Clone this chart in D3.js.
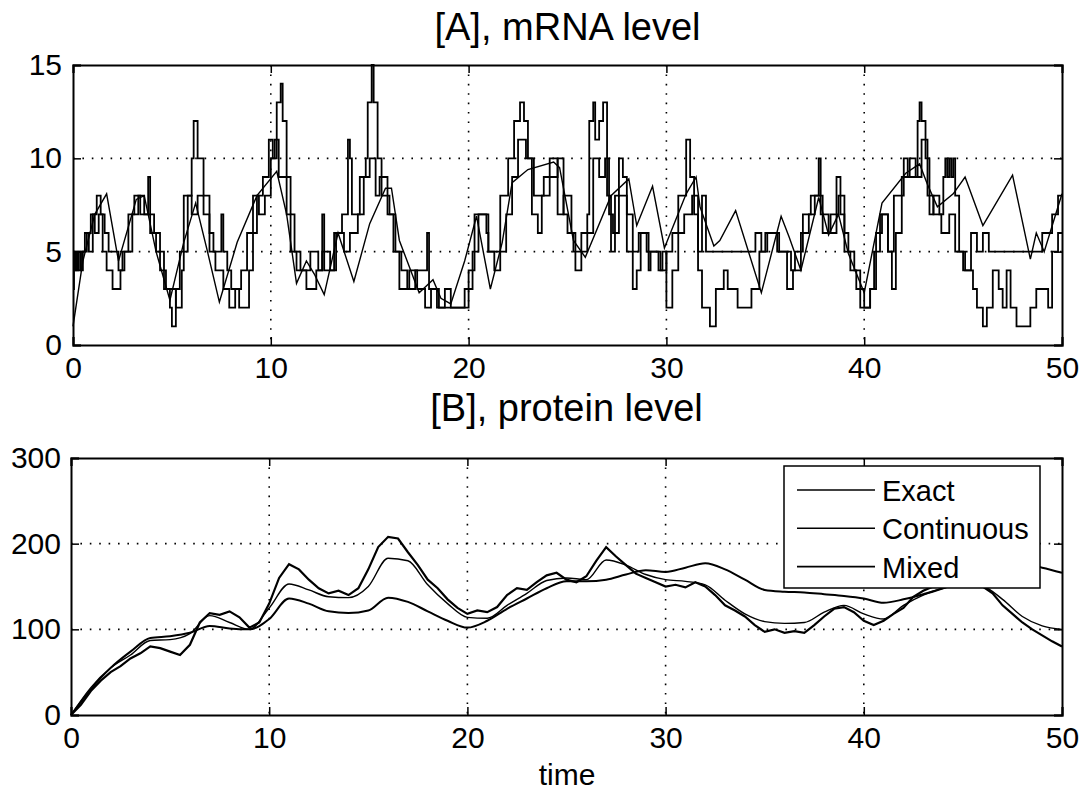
<!DOCTYPE html>
<html><head><meta charset="utf-8">
<script src="https://cdn.jsdelivr.net/npm/d3@7"></script>
<style>body{margin:0;background:#fff}svg{display:block}text{font-family:Arial,"Liberation Sans",sans-serif;fill:#000}</style>
</head><body><svg id="c" width="1084" height="791"></svg>
<script>
// ---------- DATA ----------
const titleA = "[A], mRNA level";
const titleB = "[B], protein level";
const xLabel = "time";
const xTicks = [0,10,20,30,40,50];
const yTicksA = [0,5,10,15];
const yTicksB = [0,100,200,300];
const legendNames = ["Exact","Continuous","Mixed"];

// mRNA, exact (step) [time, count]
const mrnaExact = [[0,5],[0.1,4],[0.2,5],[0.3,4],[0.4,5],[0.6,6],[0.8,5],[1.0,7],[1.2,8],[1.4,7],[1.6,6],[1.8,5],[2.3,4],[2.5,5],[2.8,7],[3.1,8],[3.4,7],[3.8,9],[3.9,7],[4.1,6],[4.4,5],[4.6,3],[4.9,2],[5.0,1],[5.2,3],[5.4,5],[5.6,8],[6.0,10],[6.1,12],[6.3,10],[6.6,8],[6.9,6],[7.1,5],[7.5,7],[7.6,5],[7.8,4],[8.0,3],[8.4,2],[8.9,4],[9.1,6],[9.3,8],[9.6,9],[9.9,11],[10.1,10],[10.3,13],[10.5,14],[10.6,12],[10.8,9],[11.0,7],[11.2,5],[11.5,4],[12.0,5],[12.4,4],[12.6,7],[12.7,4],[13.2,6],[13.6,7],[13.9,11],[14.0,10],[14.1,7],[14.5,9],[14.8,10],[14.9,13],[15.1,15],[15.2,13],[15.4,10],[15.6,8],[16.0,7],[16.3,5],[16.6,4],[16.9,3],[17.3,4],[17.9,6],[18.0,3],[18.5,2],[20.0,4],[20.3,7],[20.9,6],[21.0,5],[21.6,8],[22.0,10],[22.3,12],[22.6,13],[22.8,12],[23.0,10],[23.2,7],[23.5,6],[23.7,8],[24.1,10],[24.5,7],[24.8,8],[25.2,6],[25.4,4],[25.7,6],[26.0,7],[26.1,12],[26.3,13],[26.4,11],[26.6,12],[26.8,13],[27.0,8],[27.2,5],[27.4,8],[27.6,10],[27.8,9],[28.0,5],[28.3,3],[28.5,4],[28.7,6],[29.1,4],[29.2,5],[29.7,4],[30.0,5],[30.3,6],[30.6,8],[31.0,11],[31.2,9],[31.4,7],[31.6,5],[31.8,8],[32.0,5],[34.0,5],[34.5,6],[34.8,5],[35.1,6],[35.7,5],[36.3,4],[36.5,5],[36.9,7],[37.3,8],[37.7,10],[37.8,7],[38.2,6],[38.6,9],[38.8,7],[39.0,5],[39.3,4],[39.6,3],[39.8,2],[40.3,3],[40.5,5],[40.8,7],[41.2,5],[41.5,8],[42.0,10],[42.2,9],[42.7,12],[42.8,13],[42.9,12],[43.1,10],[43.3,7],[43.5,8],[43.8,7],[44.0,9],[44.1,10],[44.2,9],[44.3,10],[44.4,9],[44.5,10],[44.6,8],[44.8,5],[45.1,4],[45.4,6],[45.7,5],[46.0,6],[46.3,5],[48.5,5],[49.0,6],[49.5,7],[49.8,8],[50,8]];

// mRNA, mixed (step)
const mrnaMixed = [[0,3],[0.05,5],[0.15,4],[0.25,5],[0.4,4],[0.5,5],[0.7,6],[0.9,7],[1.1,6],[1.3,7],[1.5,5],[1.7,4],[2.0,3],[2.4,4],[2.6,5],[3.0,7],[3.3,8],[3.6,7],[3.9,6],[4.2,5],[4.4,4],[4.7,3],[5.2,2],[5.5,4],[5.6,5],[5.8,8],[6.0,7],[6.3,8],[6.6,7],[6.9,5],[7.2,4],[7.6,3],[7.9,2],[8.2,3],[8.5,4],[8.8,6],[9.1,8],[9.4,7],[9.7,8],[10.0,10],[10.2,11],[10.4,9],[10.8,7],[11.0,5],[11.3,4],[11.8,3],[12.3,4],[12.6,5],[13.0,4],[13.3,6],[13.7,5],[14.0,6],[14.4,7],[14.7,9],[15.0,10],[15.3,8],[15.5,9],[15.9,7],[16.2,5],[16.5,3],[17.0,4],[17.4,3],[17.8,2],[18.1,3],[18.4,2],[18.8,3],[19.1,2],[19.8,3],[20.2,5],[20.5,7],[21.0,5],[21.3,4],[21.6,5],[21.9,7],[22.2,9],[22.5,11],[22.9,10],[23.3,8],[23.8,9],[24.3,9],[24.5,10],[24.8,7],[25.0,6],[25.3,5],[25.8,5],[26.0,6],[26.3,10],[26.6,9],[26.9,10],[27.1,7],[27.3,6],[27.6,8],[28.0,7],[28.3,5],[28.6,6],[29.0,5],[29.6,4],[29.8,5],[30.0,2],[30.3,4],[30.6,6],[30.9,7],[31.3,8],[31.6,4],[31.8,2],[32.2,1],[32.5,3],[32.9,4],[33.1,3],[33.6,2],[34.3,3],[34.7,5],[35.0,6],[35.6,5],[36.1,3],[36.4,4],[36.8,6],[37.2,7],[37.5,8],[37.9,6],[38.3,7],[38.7,8],[39.0,6],[39.2,5],[39.5,4],[39.8,3],[40.0,2],[40.3,3],[40.6,6],[40.9,7],[41.2,5],[41.4,3],[41.6,6],[41.9,9],[42.3,10],[42.6,9],[42.9,11],[43.2,8],[43.5,7],[43.9,6],[44.3,7],[44.6,5],[45.0,4],[45.5,3],[45.7,2],[46.0,1],[46.2,2],[46.5,4],[46.8,3],[47.0,2],[47.2,4],[47.4,2],[47.7,1],[48.0,1],[48.4,2],[48.7,3],[49.0,3],[49.3,2],[49.5,5],[49.8,6],[50,6]];

// mRNA, continuous (piecewise smooth)
const mrnaCont = [[0,1],[0.5,4.5],[1.1,7],[1.7,8.1],[2.3,4.5],[3.2,7.8],[3.6,8],[4.2,5],[4.9,2.4],[5.6,5.5],[6.2,7.6],[6.8,5],[7.4,2.3],[8.3,5.5],[9.3,8],[10.3,9.3],[10.8,7],[11.3,3.3],[11.8,4.5],[12.2,3.8],[12.7,2.7],[13.4,6],[14.2,3.4],[15,6.5],[15.8,8.4],[16.1,8.4],[16.5,5.6],[17.5,2.8],[18.2,3.5],[18.6,2.5],[19.1,2.2],[19.8,4.5],[20.4,6.9],[21.1,3.0],[21.7,5.5],[22.2,8.7],[23,9.4],[24.3,9.8],[24.6,9.5],[25.3,5.6],[25.9,4.7],[27.2,8],[28.1,8.9],[28.5,6.4],[29.3,8.5],[29.9,5.2],[31,8.1],[31.5,9],[31.7,7.4],[32.4,5.3],[32.7,5.6],[33.5,7.2],[34.8,2.8],[35.8,6.9],[36.2,5.8],[36.8,4.0],[37.7,7.9],[38.2,5.9],[38.7,7.0],[39.2,4.9],[40,2.8],[40.9,7.6],[42.1,9.2],[42.8,9.7],[43.2,8.6],[43.7,7.4],[44.5,8.1],[45.1,9.0],[46.0,6.4],[47.5,9.1],[48.4,4.6],[48.7,6.0],[49.1,5.0],[50,8.1]];

// protein, times and values
const protTimeFine = d3.range(0, 50.001, 0.5);
const protExact = [0,12,28,40,50,57,66,72,80,78,74,70,82,108,119,117,121,114,102,108,130,160,176,170,158,148,142,145,140,148,170,196,208,206,190,175,158,148,135,125,118,122,120,126,140,148,146,155,163,166,158,155,162,180,196,185,175,165,160,155,150,152,149,155,150,140,128,122,115,105,97,100,96,98,96,105,115,124,126,120,110,105,110,118,125,138,145,150,155,160,162,158,150,142,128,118,108,100,93,86,80];
const protTimeCoarse = d3.range(0, 50.001, 1);
const protMixed = [0,32,55,70,87,88,95,116,108,100,125,153,146,138,137,150,183,180,152,130,114,113,128,142,157,160,158,181,175,164,158,156,152,134,118,109,107,108,120,128,118,112,128,140,148,152,150,135,115,104,100];
const protCont = [0,30,55,74,90,92,96,104,101,100,112,136,130,121,119,122,137,132,121,110,102,110,124,136,148,156,156,158,164,169,167,172,177,170,158,146,144,143,141,139,136,131,135,141,148,158,168,174,176,172,166];

// ---------- DRAW ----------
const svg = d3.select("#c");
svg.append("rect").attr("width",1084).attr("height",791).attr("fill","#fff");
const FS = 30, TFS = 38, LFS = 29;

function panel(box, yDomain, yTicks, title, titleY, padY) {
  const x = d3.scaleLinear().domain([0,50]).range([box.x0, box.x1]);
  const y = d3.scaleLinear().domain(yDomain).range([box.y1, box.y0]);
  const g = svg.append("g");
  // grid
  xTicks.slice(1,-1).forEach(t => g.append("line").attr("x1",x(t)).attr("x2",x(t)).attr("y1",box.y0).attr("y2",box.y1)
     .attr("stroke","#000").attr("stroke-width",1.6).attr("stroke-dasharray","1.6,7.8"));
  yTicks.slice(1,-1).forEach(v => g.append("line").attr("y1",y(v)).attr("y2",y(v)).attr("x1",box.x0).attr("x2",box.x1)
     .attr("stroke","#000").attr("stroke-width",1.6).attr("stroke-dasharray","1.6,7.8"));
  // axes via d3 axis (inward ticks)
  const ax = d3.axisBottom(x).tickValues(xTicks).tickSize(-8).tickPadding(12).tickFormat(d3.format("d"));
  const ay = d3.axisLeft(y).tickValues(yTicks).tickSize(-8).tickPadding(padY).tickFormat(d3.format("d"));
  const axt = d3.axisTop(x).tickValues(xTicks).tickSize(-8).tickFormat("");
  const ayr = d3.axisRight(y).tickValues(yTicks).tickSize(-8).tickFormat("");
  const gx = g.append("g").attr("transform",`translate(0,${box.y1})`).call(ax);
  const gy = g.append("g").attr("transform",`translate(${box.x0},0)`).call(ay);
  const gxt = g.append("g").attr("transform",`translate(0,${box.y0})`).call(axt);
  const gyr = g.append("g").attr("transform",`translate(${box.x1},0)`).call(ayr);
  [gx,gy,gxt,gyr].forEach(a => {
    a.selectAll("path").attr("stroke","#000").attr("stroke-width",2);
    a.selectAll("line").attr("stroke","#000").attr("stroke-width",1.5);
    a.selectAll("text").attr("font-size",FS).attr("font-family","Arial, 'Liberation Sans', sans-serif").attr("fill","#000");
  });
  g.append("text").attr("x",(box.x0+box.x1)/2).attr("y",titleY).attr("text-anchor","middle")
    .attr("font-size",TFS).text(title);
  return {x,y,g};
}

const A = panel({x0:73,x1:1062,y0:65,y1:345},[0,15],yTicksA,titleA,40,11);
const lineStep = d3.line().x(d=>A.x(d[0])).y(d=>A.y(d[1])).curve(d3.curveStepAfter);
const lineA = d3.line().x(d=>A.x(d[0])).y(d=>A.y(d[1]));
A.g.append("path").datum(mrnaCont).attr("d",lineA).attr("fill","none").attr("stroke","#000").attr("stroke-width",1.4);
A.g.append("path").datum(mrnaMixed).attr("d",lineStep).attr("fill","none").attr("stroke","#000").attr("stroke-width",1.8);
A.g.append("path").datum(mrnaExact).attr("d",lineStep).attr("fill","none").attr("stroke","#000").attr("stroke-width",1.8);

const B = panel({x0:71,x1:1062,y0:458,y1:715},[0,300],yTicksB,titleB,421,10);
const lineFine = d3.line().x((d,i)=>B.x(protTimeFine[i])).y(d=>B.y(d));
const lineCoarse = d3.line().x((d,i)=>B.x(protTimeCoarse[i])).y(d=>B.y(d)).curve(d3.curveMonotoneX);
B.g.append("path").datum(protCont).attr("d",lineCoarse).attr("fill","none").attr("stroke","#000").attr("stroke-width",2);
B.g.append("path").datum(protMixed).attr("d",lineCoarse).attr("fill","none").attr("stroke","#000").attr("stroke-width",1.4);
B.g.append("path").datum(protExact).attr("d",lineFine).attr("fill","none").attr("stroke","#000").attr("stroke-width",2.2);

// x label
svg.append("text").attr("x",567).attr("y",785).attr("text-anchor","middle").attr("font-size",FS).text(xLabel);

// legend
const lg = svg.append("g");
lg.append("rect").attr("x",784).attr("y",466).attr("width",256).attr("height",122)
  .attr("fill","#fff").attr("stroke","#000").attr("stroke-width",1.5);
legendNames.forEach((n,i)=>{
  const yy = 490 + i*38.3;
  lg.append("line").attr("x1",797).attr("x2",875).attr("y1",yy).attr("y2",yy).attr("stroke","#000").attr("stroke-width",1.6);
  lg.append("text").attr("x",882).attr("y",yy+11).attr("font-size",LFS).text(n);
});
</script></body></html>
